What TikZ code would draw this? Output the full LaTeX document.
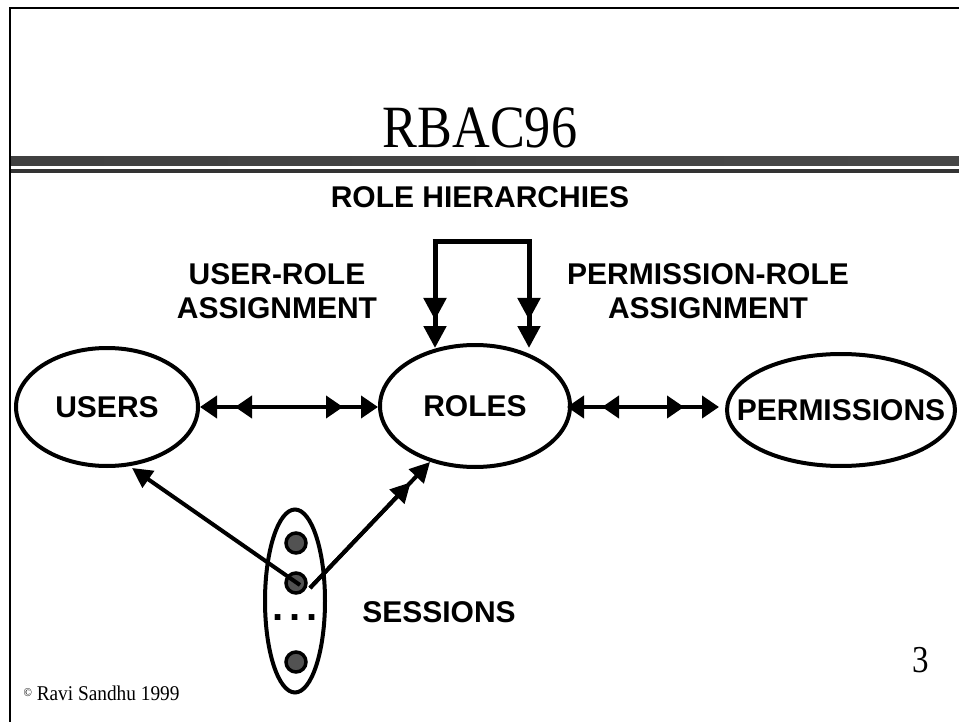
\documentclass[tikz,border=0pt]{standalone}
\usepackage{fontspec}
\setmainfont{Liberation Serif}
\newfontfamily\arialf{Liberation Sans}
\usetikzlibrary{arrows.meta,shapes.geometric}
\tikzset{
  lbl/.style={font=\arialf\bfseries\fontsize{30}{34}\selectfont, align=center},
  oval/.style={draw, ellipse, line width=4, inner sep=0pt},
  conn/.style={line width=4},
  tipH/.style={-{Triangle[length=17,width=22]}},
  tipHH/.style={{Triangle[length=17,width=22]}-{Triangle[length=17,width=22]}},
  tipV/.style={-{Triangle[length=22,width=22]}},
  tipS/.style={-{Triangle[length=20,width=20]}},
  dot/.style={draw, circle, line width=3.5, fill=black!68, minimum size=20, inner sep=0pt},
}
\begin{document}
\begin{tikzpicture}[x=1pt,y=-1pt]
\useasboundingbox (0,0) rectangle (959,722);
% frame
\draw[line width=2.5] (10,722) -- (10,8) -- (959,8);
% bars
\shade[left color=black!75, middle color=black!30, right color=black!72] (11,157) rectangle (959,166);
\fill[black!80] (11,169) rectangle (959,173);
% title
\node (title) at (480,128) {\fontsize{60}{66}\selectfont\scalebox{0.87}[1]{RBAC96}};
% labels
\node[lbl] (rh) at (480,197) {ROLE HIERARCHIES};
\node[lbl] (ura) at (277,291) {USER-ROLE\\ASSIGNMENT};
\node[lbl] (pra) at (708,291) {PERMISSION-ROLE\\ASSIGNMENT};
% ellipses
\node[oval, minimum width=182, minimum height=118, label={[lbl]center:USERS}] (users) at (107,407) {};
\node[oval, minimum width=190, minimum height=122, label={[lbl]center:ROLES}] (roles) at (475,406) {};
\node[oval, minimum width=228, minimum height=112, label={[lbl]center:PERMISSIONS}] (perms) at (841,410) {};
% user-role assignment
\coordinate (ue) at (200,407);
\coordinate (rw) at (378,407);
\draw[conn, tipHH] (ue) -- (rw);
\draw[conn, tipHH, shorten <=35, shorten >=35] (ue) -- (rw);
% permission-role assignment
\coordinate (re) at (567,407);
\coordinate (pw) at (719,407);
\draw[conn, tipHH] (re) -- (pw);
\draw[conn, tipHH, shorten <=35, shorten >=35] (re) -- (pw);
% role hierarchy
\coordinate (hl) at (435,242);
\coordinate (hr) at (529,242);
\coordinate (rtl) at (435,348);
\coordinate (rtr) at (529,348);
\draw[line width=5] ([xshift=-2.5]hl) -- ([xshift=2.5]hr);
\draw[line width=5, tipV] (hl) -- (rtl);
\draw[line width=5, tipV, shorten >=28] (hl) -- (rtl);
\draw[line width=5, tipV] (hr) -- (rtr);
\draw[line width=5, tipV, shorten >=28] (hr) -- (rtr);
% sessions
\node[oval, minimum width=60, minimum height=183] (sess) at (295,601) {};
\node[dot] (d1) at (296,543) {};
\node[dot] (d2) at (296,583) {};
\node[dot] (d3) at (296,662) {};
\node (dots) at (295,618) {\arialf\bfseries\fontsize{40}{40}\selectfont .\hspace{5.5pt}.\hspace{5.5pt}.};
\node[lbl] (sl) at (439,612) {SESSIONS};
\coordinate (s1) at (300,585);
\coordinate (s2) at (310,588);
\coordinate (ut) at (132,468);
\coordinate (rt) at (430,462);
\draw[conn, tipS] (s1) -- (ut);
\draw[conn, tipS] (s2) -- (rt);
\draw[conn, tipS, shorten >=28] (s2) -- (rt);
% footer
\node[anchor=west] (copy) at (20,693) {\scalebox{0.92}[1]{\fontsize{21}{24}\selectfont\raisebox{4pt}{\fontsize{12}{12}\selectfont\textcopyright} Ravi Sandhu 1999}};
\node (pg) at (921,660) {\scalebox{0.87}[1]{\fontsize{38}{42}\selectfont 3}};
\end{tikzpicture}
\end{document}
